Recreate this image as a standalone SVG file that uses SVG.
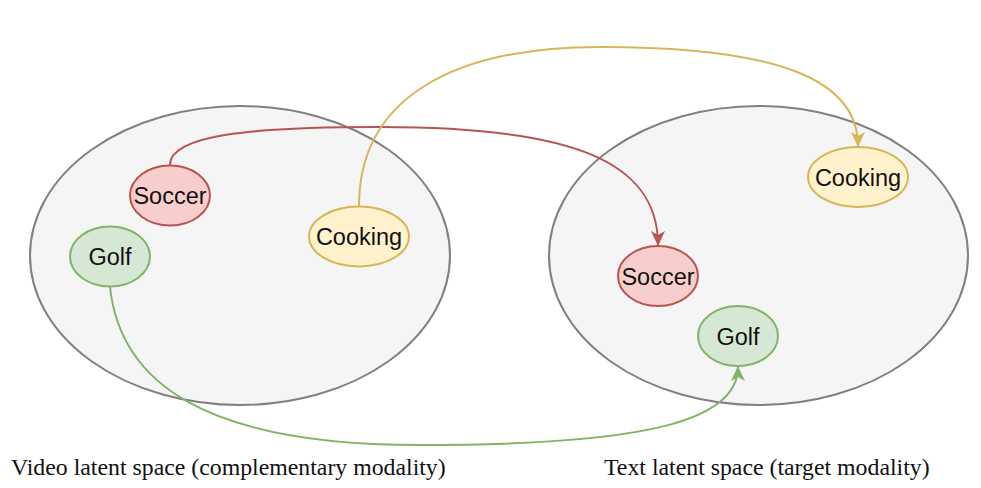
<svg xmlns="http://www.w3.org/2000/svg" width="981" height="488" viewBox="0 0 981 488">
<style>
.space{fill:#f5f5f5;stroke:#808080;stroke-width:2}
.red{fill:#f8cecc;stroke:#b85450;stroke-width:2}
.yellow{fill:#fff2cc;stroke:#d6b656;stroke-width:2}
.green{fill:#d5e8d4;stroke:#82b366;stroke-width:2}
.lbl{font-family:"Liberation Sans",Arial,sans-serif;font-size:23.5px;fill:#111;text-anchor:middle;dominant-baseline:central}
.cap{font-family:"Liberation Serif","Times New Roman",serif;font-size:23.8px;fill:#111}
.edge{fill:none;stroke-width:2}
</style>
<defs>
<marker id="arR" viewBox="0 0 15 14" refX="14" refY="7" markerWidth="15" markerHeight="14" markerUnits="userSpaceOnUse" orient="auto"><path d="M0,0 L15,7 L0,14 L4,7 Z" fill="#b85450"/></marker>
<marker id="arY" viewBox="0 0 15 14" refX="14" refY="7" markerWidth="15" markerHeight="14" markerUnits="userSpaceOnUse" orient="auto"><path d="M0,0 L15,7 L0,14 L4,7 Z" fill="#d6b656"/></marker>
<marker id="arG" viewBox="0 0 15 14" refX="14" refY="7" markerWidth="15" markerHeight="14" markerUnits="userSpaceOnUse" orient="auto"><path d="M0,0 L15,7 L0,14 L4,7 Z" fill="#82b366"/></marker>
</defs>
<g id="video-space"><ellipse class="space" cx="240" cy="255.5" rx="210" ry="149.5"/></g>
<g id="text-space"><ellipse class="space" cx="758.5" cy="255.5" rx="209.5" ry="149.5"/></g>
<g id="connectors">
<path class="edge" stroke="#b85450" d="M170,165 C170,135 250,127 380,127 C 570,127 658,160 658,245" marker-end="url(#arR)"/>
<path class="edge" stroke="#d6b656" d="M359,206 C359,100 450,47 600,47 C 780,47 858,80 858,146" marker-end="url(#arY)"/>
<path class="edge" stroke="#82b366" d="M110,287 C120,380 200,445 420,445 C 650,445 738,420 738,367" marker-end="url(#arG)"/>
</g>
<g id="soccer-video"><ellipse class="red" cx="170" cy="195.5" rx="40" ry="30"/><text class="lbl" x="170" y="196">Soccer</text></g>
<g id="golf-video"><ellipse class="green" cx="110" cy="256.5" rx="40" ry="30"/><text class="lbl" x="110" y="257">Golf</text></g>
<g id="cooking-video"><ellipse class="yellow" cx="359" cy="236.5" rx="50" ry="30"/><text class="lbl" x="359" y="237">Cooking</text></g>
<g id="cooking-text"><ellipse class="yellow" cx="858" cy="177" rx="50" ry="30"/><text class="lbl" x="858" y="177.5">Cooking</text></g>
<g id="soccer-text"><ellipse class="red" cx="658" cy="276" rx="40" ry="30"/><text class="lbl" x="658" y="276.5">Soccer</text></g>
<g id="golf-text"><ellipse class="green" cx="738" cy="336" rx="40" ry="30"/><text class="lbl" x="738" y="336.5">Golf</text></g>
<g id="captions">
<text class="cap" x="11" y="475">Video latent space (complementary modality)</text>
<text class="cap" x="604" y="475">Text latent space (target modality)</text>
</g>
</svg>
